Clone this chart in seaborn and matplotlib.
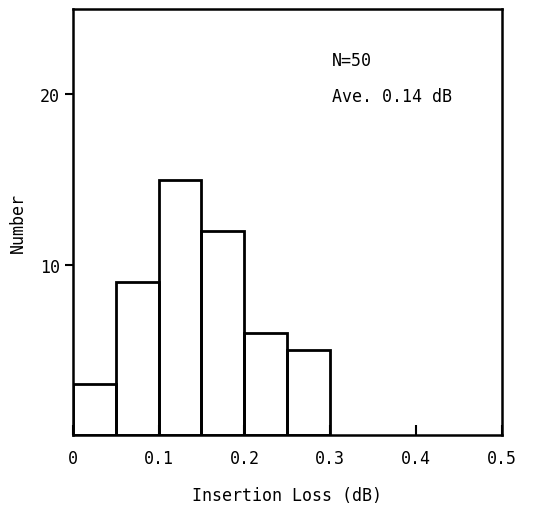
import matplotlib
matplotlib.use("Agg")
import matplotlib.pyplot as plt
import seaborn as sns
import numpy as np

# histogram of insertion loss, bin width 0.05 dB
bin_edges = [0.0, 0.05, 0.10, 0.15, 0.20, 0.25, 0.30]
counts = [3, 9, 15, 12, 6, 5]
bin_centers = [0.025, 0.075, 0.125, 0.175, 0.225, 0.275]
x_ticks = [0, 0.1, 0.2, 0.3, 0.4, 0.5]
x_tick_labels = ["0", "0.1", "0.2", "0.3", "0.4", "0.5"]
y_ticks = [10, 20]

sns.set_theme(style="white")
plt.rcParams["font.family"] = ["DejaVu Sans Mono", "DejaVu Sans"]
plt.rcParams["text.color"] = "black"
plt.rcParams["xtick.color"] = "black"
plt.rcParams["ytick.color"] = "black"
plt.rcParams["axes.labelcolor"] = "black"

fig = plt.figure(figsize=(5.39, 5.10), dpi=100)
ax = fig.add_axes([0.135, 0.145, 0.796, 0.835])

sns.histplot(x=bin_centers, weights=counts, bins=bin_edges, ax=ax,
             fill=False, element="bars", color="black", linewidth=2.0)

ax.set_xlim(0, 0.5)
ax.set_ylim(0, 25)
ax.set_xticks(x_ticks)
ax.set_xticklabels(x_tick_labels)
ax.set_yticks(y_ticks)
ax.tick_params(axis="x", direction="in", length=7, width=1.5, labelsize=12, pad=10, bottom=True)
ax.tick_params(axis="y", direction="out", length=6, width=1.5, labelsize=12, left=True)
for s in ax.spines.values():
    s.set_color("black")
    s.set_linewidth(1.8)

ax.set_xlabel("Insertion Loss (dB)", fontsize=12, labelpad=14)
ax.set_ylabel("Number", fontsize=12, labelpad=9)

ax.text(0.302, 22.0, "N=50", fontsize=12, va="center")
ax.text(0.302, 19.9, "Ave. 0.14 dB", fontsize=12, va="center")

fig.savefig("out.png", dpi=100)
